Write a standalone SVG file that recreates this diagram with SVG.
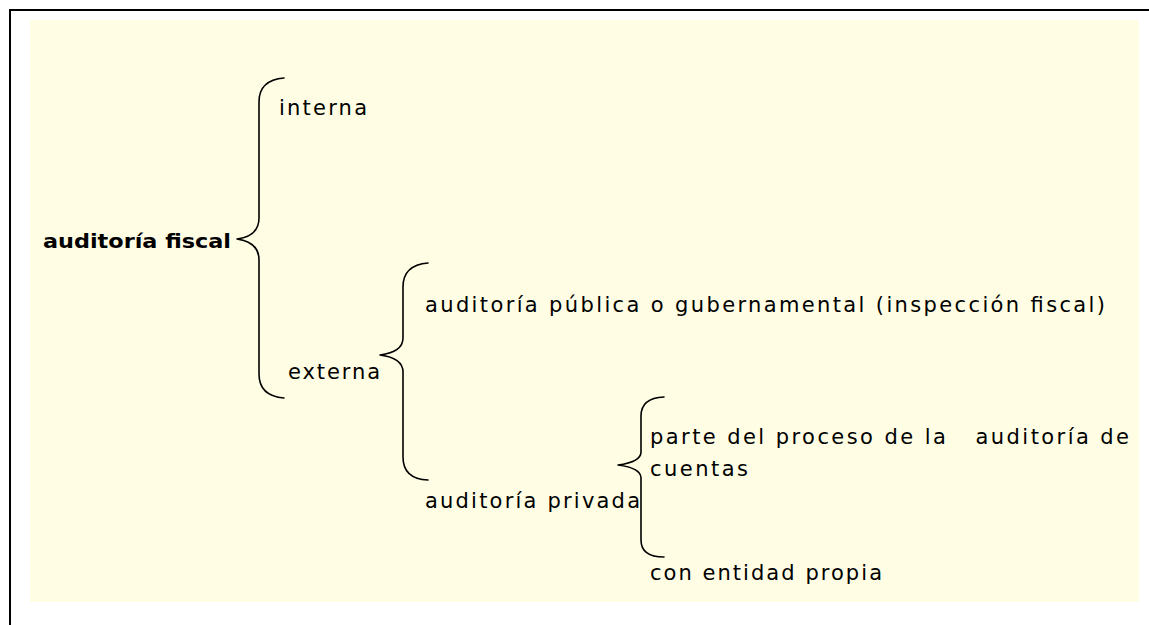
<svg xmlns="http://www.w3.org/2000/svg" width="1149" height="625" viewBox="0 0 1149 625">
<style>
.t{font-family:"DejaVu Sans","Liberation Sans",sans-serif;font-size:21px;fill:#000}
.b{font-family:"DejaVu Sans","Liberation Sans",sans-serif;font-size:20px;font-weight:bold;fill:#000}
.br{fill:none;stroke:#000;stroke-width:1.6;stroke-linejoin:round;stroke-linecap:round}
</style>
<rect width="1149" height="625" fill="#fff"/>
<path d="M10 625 V10 H1149" fill="none" stroke="#000" stroke-width="2"/>
<rect x="30" y="20" width="1109" height="582" fill="#FFFEE4"/>
<g id="connectors">
<path class="br" d="M284 78 Q259 80 259 102 V218 Q259 236 237 239 Q259 242 259 260 V374 Q259 396 284 398"/>
<path class="br" d="M428 263 Q403 265 403 287 V338 Q403 352 380 355 Q403 358 403 372 V457 Q403 479 428 480"/>
<path class="br" d="M664 397 Q641 398 641 416 V452 Q641 462 618 465 Q641 468 641 478 V540 Q641 557 664 557"/>
</g>
<g id="n-root"><text class="b" x="43" y="248" textLength="188" lengthAdjust="spacingAndGlyphs">auditoría fiscal</text></g>
<g id="n-interna"><text class="t" x="279" y="115" textLength="88" lengthAdjust="spacing">interna</text></g>
<g id="n-externa"><text class="t" x="288" y="379" textLength="92" lengthAdjust="spacing">externa</text></g>
<g id="n-publica"><text class="t" x="425" y="312" textLength="680" lengthAdjust="spacing">auditoría pública o gubernamental (inspección fiscal)</text></g>
<g id="n-privada"><text class="t" x="425" y="508" textLength="215" lengthAdjust="spacing">auditoría privada</text></g>
<g id="n-parte"><text class="t" x="650" y="444" textLength="479" lengthAdjust="spacing" xml:space="preserve">parte del proceso de la   auditoría de</text><text class="t" x="650" y="476" textLength="98" lengthAdjust="spacing">cuentas</text></g>
<g id="n-propia"><text class="t" x="650" y="580" textLength="232" lengthAdjust="spacing">con entidad propia</text></g>
</svg>
